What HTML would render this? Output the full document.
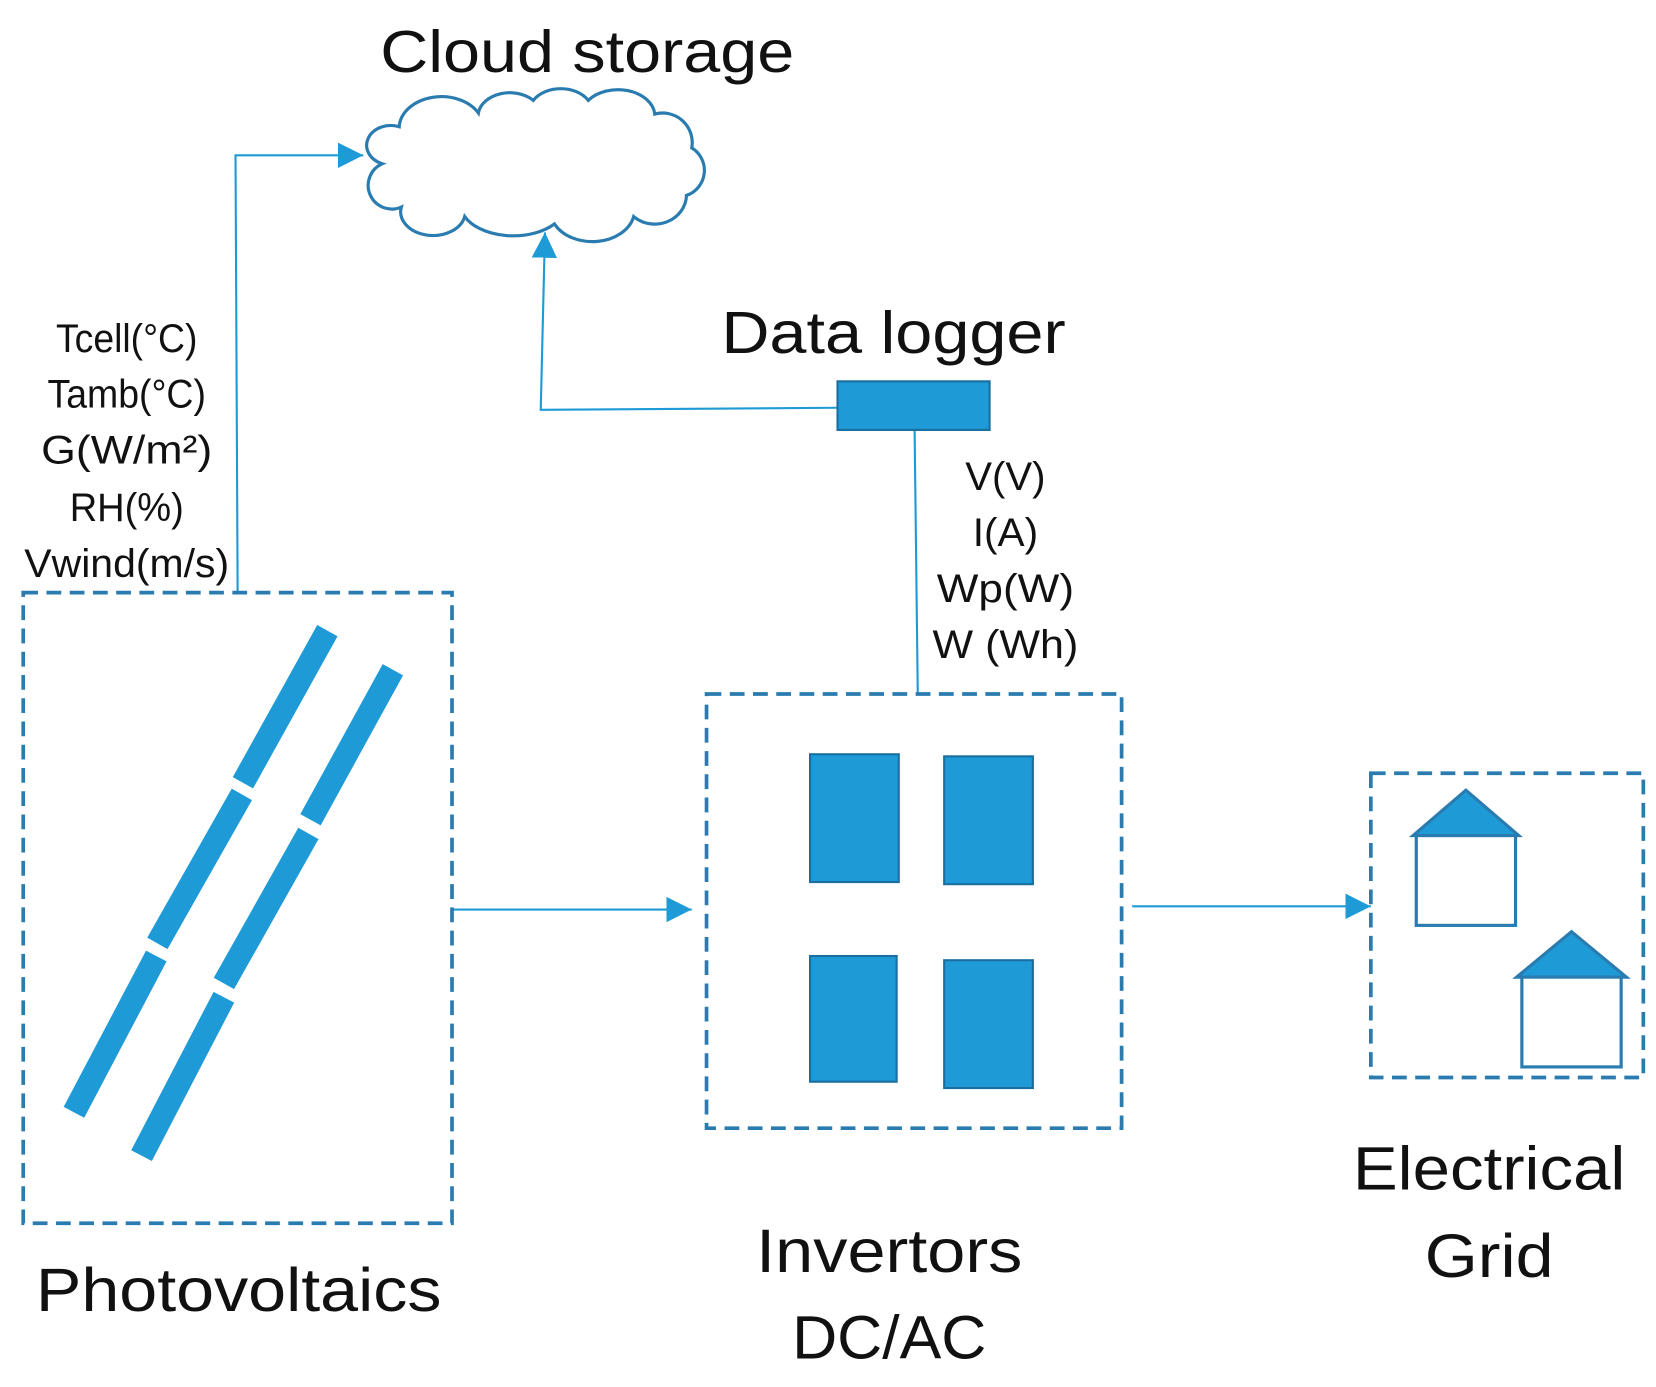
<!DOCTYPE html>
<html><head><meta charset="utf-8"><style>
html,body{margin:0;padding:0;background:#fff;}
svg{display:block;}
text{font-family:"Liberation Sans",sans-serif;fill:#111;}
</style></head><body>
<svg width="1656" height="1387" viewBox="0 0 1568 1313" preserveAspectRatio="none" xmlns="http://www.w3.org/2000/svg">
<defs>
<marker id="ar" viewBox="0 0 10 10" refX="10" refY="5" markerWidth="24" markerHeight="24" markerUnits="userSpaceOnUse" orient="auto">
<path d="M0,0 L10,5 L0,10 Z" fill="#1e9ad6"/></marker>
</defs>
<text x="556" y="68" font-size="56" text-anchor="middle" textLength="392" lengthAdjust="spacingAndGlyphs">Cloud storage</text>
<text x="846" y="334" font-size="56" text-anchor="middle" textLength="326" lengthAdjust="spacingAndGlyphs">Data logger</text>
<path d="M362,155 A22 18 0 0 1 378,120 A40 30 0 0 1 453,107 A30 22 0 0 1 505,95 A30 22 0 0 1 557,95 A35 25 0 0 1 620,108 A28 28 0 0 1 655,140 A25 25 0 0 1 650,185 A30 28 0 0 1 600,205 A40 30 0 0 1 525,212 A50 30 0 0 1 440,205 A30 22 0 0 1 380,196 A20 20 0 0 1 362,155 Z" fill="#fff" stroke="#2a7bb0" stroke-width="3"/>
<g stroke="#1e9ad6" stroke-width="2" fill="none">
<path d="M225,561 L223,147 L344,147" marker-end="url(#ar)"/>
<path d="M793,386 L512,388 L516,220" marker-end="url(#ar)"/>
<path d="M866,407 L869,657"/>
<path d="M428,861 L655,861" marker-end="url(#ar)"/>
<path d="M1072,858 L1298,858" marker-end="url(#ar)"/>
</g>
<rect x="793" y="361" width="144" height="46" fill="#1e9ad6" stroke="#1a6fa0" stroke-width="2"/>
<g font-size="38" text-anchor="middle" lengthAdjust="spacingAndGlyphs">
<text x="120" y="333" textLength="134" lengthAdjust="spacingAndGlyphs">Tcell(°C)</text>
<text x="120" y="386" textLength="150" lengthAdjust="spacingAndGlyphs">Tamb(°C)</text>
<text x="120" y="439" textLength="162" lengthAdjust="spacingAndGlyphs">G(W/m²)</text>
<text x="120" y="493" textLength="108" lengthAdjust="spacingAndGlyphs">RH(%)</text>
<text x="120" y="546" textLength="194" lengthAdjust="spacingAndGlyphs">Vwind(m/s)</text>
<text x="952" y="464" textLength="76" lengthAdjust="spacingAndGlyphs">V(V)</text>
<text x="952" y="517" textLength="62" lengthAdjust="spacingAndGlyphs">I(A)</text>
<text x="952" y="570" textLength="130" lengthAdjust="spacingAndGlyphs">Wp(W)</text>
<text x="952" y="623" textLength="138" lengthAdjust="spacingAndGlyphs">W (Wh)</text>
</g>
<g fill="none" stroke="#2a7bb0" stroke-width="3.5" stroke-dasharray="14,8">
<rect x="22" y="561" width="406" height="597"/>
<rect x="669" y="657" width="393" height="411"/>
<rect x="1298" y="732" width="258" height="288"/>
</g>
<g stroke="#1e9ad6" stroke-width="22" stroke-linecap="butt">
<line x1="310" y1="597" x2="230" y2="741"/>
<line x1="229" y1="752" x2="149" y2="893"/>
<line x1="148" y1="905" x2="70" y2="1053"/>
<line x1="372" y1="634" x2="294" y2="776"/>
<line x1="292" y1="789" x2="212" y2="931"/>
<line x1="212" y1="944" x2="134" y2="1094"/>
</g>
<g fill="#1e9ad6" stroke="#1a6fa0" stroke-width="2">
<rect x="767" y="714" width="84" height="121"/>
<rect x="894" y="716" width="84" height="121"/>
<rect x="767" y="905" width="82" height="119"/>
<rect x="894" y="909" width="84" height="121"/>
</g>
<g stroke="#2a7bb0" stroke-width="3">
<path d="M1388,748 L1438,791 L1338,791 Z" fill="#1e9ad6"/>
<rect x="1341" y="791" width="94" height="85" fill="#fff"/>
<path d="M1488,882 L1540,925 L1436,925 Z" fill="#1e9ad6"/>
<rect x="1441" y="925" width="94" height="85" fill="#fff"/>
</g>
<g font-size="58" text-anchor="middle">
<text x="226" y="1241" textLength="384" lengthAdjust="spacingAndGlyphs">Photovoltaics</text>
<text x="842" y="1204" textLength="252" lengthAdjust="spacingAndGlyphs">Invertors</text>
<text x="842" y="1286" textLength="184" lengthAdjust="spacingAndGlyphs">DC/AC</text>
<text x="1410" y="1126" textLength="258" lengthAdjust="spacingAndGlyphs">Electrical</text>
<text x="1410" y="1209" textLength="122" lengthAdjust="spacingAndGlyphs">Grid</text>
</g>
</svg>
</body></html>
